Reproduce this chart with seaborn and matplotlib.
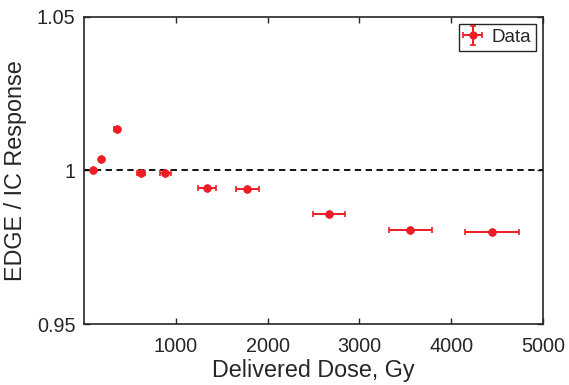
import matplotlib
matplotlib.use("Agg")
import matplotlib.pyplot as plt
import seaborn as sns
import pandas as pd

dose = [98, 188, 359, 623, 888, 1345, 1780, 2669, 3553, 4442]
response = [1.0000, 1.0038, 1.0133, 0.9992, 0.9991, 0.9943, 0.9941, 0.9857, 0.9806, 0.9800]
dose_err = [7, 12, 24, 41, 58, 98, 123, 177, 235, 295]
xticks = [1000, 2000, 3000, 4000, 5000]
yticks = [0.95, 1.0, 1.05]
ytick_labels = ["0.95", "1", "1.05"]

sns.set_style("ticks")
plt.rcParams['font.family'] = ['Liberation Sans', 'DejaVu Sans']
txt = "#262626"
red = "#EE1C25"

df = pd.DataFrame({"dose": dose, "response": response})
fig = plt.figure(figsize=(5.69, 3.85), dpi=100)
ax = fig.add_axes([0.147, 0.158, 0.808, 0.799])

eb_style = dict(fmt='o', color=red, ecolor=red, elinewidth=1.4, capsize=2.4,
                capthick=1.2, markersize=5)
ax.axhline(1.0, color="black", linestyle=(0, (3.5, 2.5)), linewidth=1.3, zorder=1)
ax.errorbar(dose, response, xerr=dose_err, zorder=3, **eb_style)
# legend proxy handle (x and y error bars), not drawn in the axes
ax.errorbar([float('nan')], [float('nan')], xerr=[1.0], yerr=[1.0], label="Data", **eb_style)
sns.scatterplot(data=df, x="dose", y="response", color=red, s=34, edgecolor=red,
                linewidth=0, ax=ax, zorder=4, legend=False)

ax.set_xlim(0, 5000)
ax.set_ylim(0.95, 1.05)
ax.set_xticks(xticks)
ax.set_xticklabels([str(t) for t in xticks])
ax.set_yticks(yticks)
ax.set_yticklabels(ytick_labels)
ax.tick_params(direction='in', top=True, right=True, length=4, width=1.0,
               labelsize=14.3, colors=txt, labelcolor=txt)
ax.tick_params(axis='x', pad=9)
ax.tick_params(axis='y', pad=6)
for s in ax.spines.values():
    s.set_visible(True)
    s.set_color(txt)
    s.set_linewidth(1.2)
ax.set_xlabel("Delivered Dose, Gy", fontsize=16.8, color=txt, labelpad=2.5)
ax.set_ylabel("EDGE / IC Response", fontsize=16.8, color=txt, labelpad=7)

leg = ax.legend(loc="upper right", fontsize=13.5, frameon=True, fancybox=False,
                edgecolor=txt, framealpha=1, handlelength=1.0, handletextpad=0.5,
                borderpad=0.25, borderaxespad=0.4)
leg.get_frame().set_linewidth(1.0)
for t in leg.get_texts():
    t.set_color(txt)

fig.savefig("out.png", dpi=100)
